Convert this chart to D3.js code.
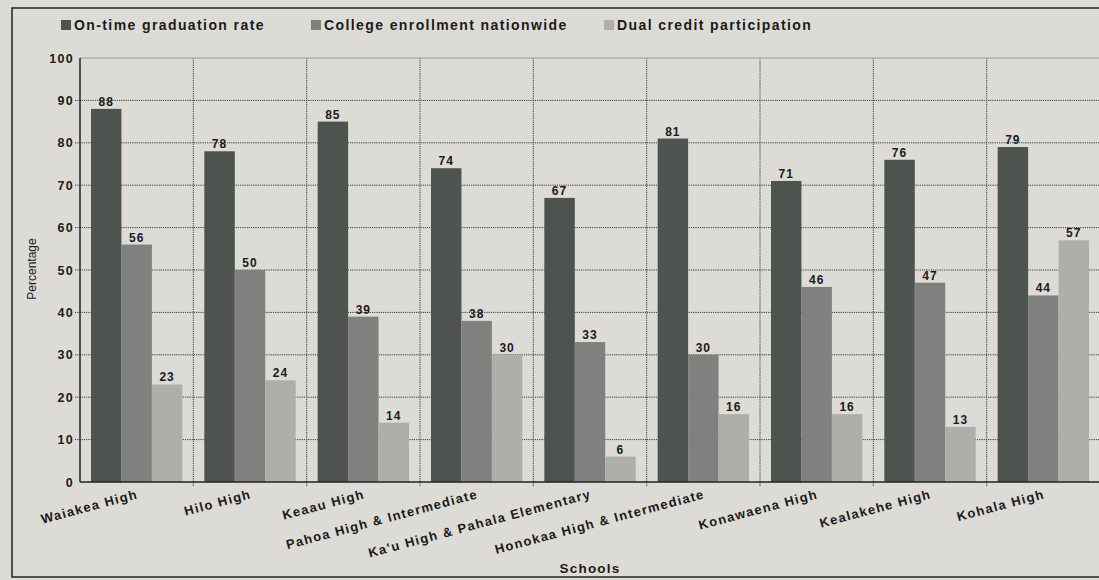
<!DOCTYPE html>
<meta charset="utf-8">
<style>
    body { margin: 0; background: #dddbd6; }
    svg { display: block; }
    text { font-family: "Liberation Sans", Arial, sans-serif; fill: #1a1a1a; }
    .grid line { stroke: #3a3a3a; stroke-width: 1; stroke-dasharray: 1.2,1; }
    .legend text { font-size: 14px; font-weight: bold; letter-spacing: 1.4px; }
    .ytick { font-size: 12.5px; font-weight: bold; letter-spacing: 1.3px; }
    .xlab { font-size: 13px; font-weight: bold; letter-spacing: 1.3px; }
    .val { font-size: 12px; font-weight: bold; letter-spacing: 1px; }
</style>
<body>
<svg width="1099" height="580"></svg>
<script src="https://d3js.org/d3.v7.min.js"></script>
<script>

    // values
    var schools = ["Waiakea High", "Hilo High", "Keaau High", "Pahoa High & Intermediate",
        "Ka'u High & Pahala Elementary", "Honokaa High & Intermediate", "Konawaena High",
        "Kealakehe High", "Kohala High"];
    var seriesNames = ["On-time graduation rate", "College enrollment nationwide", "Dual credit participation"];
    var onTime = [88, 78, 85, 74, 67, 81, 71, 76, 79];
    var college = [56, 50, 39, 38, 33, 30, 46, 47, 44];
    var dualCredit = [23, 24, 14, 30, 6, 16, 16, 13, 57];
    var yTicks = [0, 10, 20, 30, 40, 50, 60, 70, 80, 90, 100];

    var colors = ["#4e5350", "#7f817e", "#aeaeab"];
    var seriesValues = [onTime, college, dualCredit];

    var svg = d3.select("svg");

    // outer frame
    svg.append("rect")
        .attr("x", 12).attr("y", 8)
        .attr("width", 1100).attr("height", 569)
        .attr("fill", "none")
        .attr("stroke", "#222")
        .attr("stroke-width", 1.5);

    var plotLeft = 80, plotRight = 1100, plotTop = 58, plotBottom = 482;

    var x0 = d3.scaleBand().domain(schools).range([plotLeft, plotRight]).padding(0);
    var x1 = d3.scaleBand().domain(seriesNames).range([11, x0.bandwidth() - 11]).padding(0);
    var y = d3.scaleLinear().domain([0, 100]).range([plotBottom, plotTop]);

    // gridlines
    var grid = svg.append("g").attr("class", "grid");
    grid.selectAll("line.h")
        .data(yTicks.filter(function (d) { return d > 0 && d < 100; }))
        .enter().append("line")
        .attr("x1", plotLeft - 5).attr("x2", plotRight)
        .attr("y1", function (d) { return y(d); })
        .attr("y2", function (d) { return y(d); });
    grid.selectAll("line.v")
        .data(schools.slice(1))
        .enter().append("line")
        .attr("x1", function (d) { return x0(d); })
        .attr("x2", function (d) { return x0(d); })
        .attr("y1", plotTop).attr("y2", plotBottom + 5);

    // top line at 100
    svg.append("line")
        .attr("x1", plotLeft).attr("x2", plotRight)
        .attr("y1", y(100)).attr("y2", y(100))
        .attr("stroke", "#9a9a98").attr("stroke-width", 1);

    // bars
    var groups = svg.append("g").selectAll("g")
        .data(schools)
        .enter().append("g")
        .attr("transform", function (d) { return "translate(" + x0(d) + ",0)"; });

    groups.selectAll("rect")
        .data(function (d, i) {
            return seriesNames.map(function (s, j) { return { key: s, value: seriesValues[j][i], j: j }; });
        })
        .enter().append("rect")
        .attr("x", function (d) { return x1(d.key); })
        .attr("y", function (d) { return y(d.value); })
        .attr("width", x1.bandwidth())
        .attr("height", function (d) { return plotBottom - y(d.value); })
        .attr("fill", function (d) { return colors[d.j]; });

    groups.selectAll("text")
        .data(function (d, i) {
            return seriesNames.map(function (s, j) { return { key: s, value: seriesValues[j][i] }; });
        })
        .enter().append("text")
        .attr("class", "val")
        .attr("x", function (d) { return x1(d.key) + x1.bandwidth() / 2; })
        .attr("y", function (d) { return y(d.value) - 3; })
        .attr("text-anchor", "middle")
        .text(function (d) { return d.value; });

    // axes lines
    svg.append("line")
        .attr("x1", plotLeft).attr("x2", plotLeft)
        .attr("y1", plotTop).attr("y2", plotBottom)
        .attr("stroke", "#222").attr("stroke-width", 1.5);
    svg.append("line")
        .attr("x1", plotLeft).attr("x2", plotRight)
        .attr("y1", plotBottom).attr("y2", plotBottom)
        .attr("stroke", "#222").attr("stroke-width", 1.5);

    // y tick labels
    svg.selectAll("text.ytick")
        .data(yTicks)
        .enter().append("text")
        .attr("class", "ytick")
        .attr("x", 74)
        .attr("y", function (d) { return y(d) + 4.5; })
        .attr("text-anchor", "end")
        .text(function (d) { return d; });

    // x labels, slanted
    svg.selectAll("text.xlab")
        .data(schools)
        .enter().append("text")
        .attr("class", "xlab")
        .attr("text-anchor", "end")
        .attr("transform", function (d) {
            return "translate(" + (x0(d) + x0.bandwidth() / 2 + 2) + ",498) rotate(-15)";
        })
        .text(function (d) { return d; });

    // axis titles
    svg.append("text")
        .attr("transform", "translate(36,269) rotate(-90)")
        .attr("text-anchor", "middle")
        .style("font-size", "12px")
        .text("Percentage");

    svg.append("text")
        .attr("x", 590).attr("y", 573)
        .attr("text-anchor", "middle")
        .style("font-size", "13.5px")
        .style("font-weight", "bold")
        .style("letter-spacing", "1.2px")
        .text("Schools");

    // legend
    var legendX = [61, 311, 604];
    var legend = svg.append("g").attr("class", "legend")
        .selectAll("g")
        .data(seriesNames)
        .enter().append("g")
        .attr("transform", function (d, i) { return "translate(" + legendX[i] + ",20)"; });
    legend.append("rect")
        .attr("width", 10).attr("height", 10)
        .attr("fill", function (d, i) { return colors[i]; });
    legend.append("text")
        .attr("x", 13).attr("y", 10)
        .text(function (d) { return d; });

</script>
</body>
